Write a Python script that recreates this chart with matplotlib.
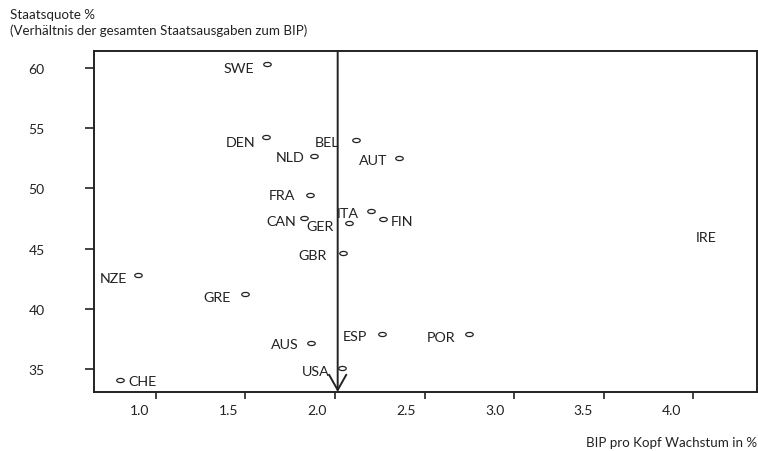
import matplotlib
matplotlib.use("Agg")
import matplotlib.pyplot as plt
from matplotlib.path import Path
from matplotlib.transforms import ScaledTranslation
import numpy as np

countries = ["SWE", "DEN", "BEL", "NLD", "AUT", "FRA", "ITA", "CAN", "GER", "FIN",
             "IRE", "GBR", "NZE", "GRE", "ESP", "POR", "AUS", "USA", "CHE"]
growth = [1.62, 1.615, 2.12, 1.885, 2.36, 1.86, 2.20, 1.825, 2.08, 2.27,
          4.21, 2.045, 0.90, 1.50, 2.26, 2.75, 1.865, 2.04, 0.80]
quota = [60.3, 54.3, 54.05, 52.7, 52.5, 49.45, 48.1, 47.55, 47.1, 47.45,
         46.05, 44.6, 42.8, 41.2, 37.95, 37.9, 37.2, 35.1, 34.1]
mean_growth = 2.015

x_ticks = [1.0, 1.5, 2.0, 2.5, 3.0, 3.5, 4.0]
x_tick_labels = ["1.0", "1.5", "2.0", "2.5", "3.0", "3.5", "4.0"]
y_ticks = [35, 40, 45, 50, 55, 60]
y_tick_labels = ["35", "40", "45", "50", "55", "60"]

# label placement (offset in pixels, horizontal alignment)
label_pos = {
    "SWE": (-13, -4, "right"), "DEN": (-11, -5, "right"), "BEL": (-17, -2, "right"),
    "NLD": (-10, -1, "right"), "AUT": (-12, -2, "right"), "FRA": (-15, 0, "right"),
    "ITA": (-12, -2, "right"), "CAN": (-8, -3, "right"), "GER": (-16, -3, "right"),
    "FIN": (7, -2, "left"), "IRE": (-14, -1, "right"), "GBR": (-16, -2, "right"),
    "NZE": (-11, -3, "right"), "GRE": (-15, -3, "right"), "ESP": (-14, -2, "right"),
    "POR": (-14, -3, "right"), "AUS": (-12, -1, "right"), "USA": (-13, -3, "right"),
    "CHE": (8, -1, "left"),
}

FONT = "Lato"
DARK = "#222222"
plt.rcParams["font.family"] = [FONT, "DejaVu Sans"]

fig = plt.figure(figsize=(7.58, 4.52), dpi=100)
ax = fig.add_axes([94 / 758, 59 / 452, 663 / 758, 341 / 452])

t = np.linspace(0, 2 * np.pi, 40)
ell = Path(np.column_stack([np.cos(t), 0.55 * np.sin(t)]))

show = [c != "IRE" for c in countries]
gx = [g for g, s in zip(growth, show) if s]
qy = [q for q, s in zip(quota, show) if s]
ax.plot(gx, qy, linestyle="none", marker=ell, markersize=5.4,
        markerfacecolor="none", markeredgecolor=DARK, markeredgewidth=0.9)

for c, g, q in zip(countries, growth, quota):
    dx, dy, ha = label_pos[c]
    ax.annotate(c, (g, q), xytext=(dx, dy), textcoords="offset pixels",
                ha=ha, va="center", fontsize=10.3, color=DARK)

ax.annotate("", xy=(mean_growth, 33.1), xytext=(mean_growth, 61.4),
            arrowprops=dict(arrowstyle="->,head_length=1.1,head_width=0.62",
                            color=DARK, lw=1.4, shrinkA=0, shrinkB=0))

ax.set_xlim(0.654, 4.357)
ax.set_ylim(33.1, 61.4)

ax.set_xticks(x_ticks)
ax.set_xticklabels(x_tick_labels)
ax.set_yticks(y_ticks)
ax.set_yticklabels(y_tick_labels)
ax.tick_params(axis="both", direction="out", width=1.2, color=DARK,
               labelsize=10, labelcolor=DARK)
ax.tick_params(axis="y", length=6.5, pad=29)
ax.tick_params(axis="x", length=5, pad=4)
for i, lab in enumerate(ax.get_xticklabels()):
    shift = ScaledTranslation((-16 - 0.85 * i) / 100, 0, fig.dpi_scale_trans)
    lab.set_transform(lab.get_transform() + shift)

for sp in ax.spines.values():
    sp.set_color(DARK)
    sp.set_linewidth(1.4)

fig.text(10 / 758, 1 - 15 / 452, "Staatsquote %", fontsize=9.6, color=DARK,
         ha="left", va="center")
fig.text(10 / 758, 1 - 31 / 452, "(Verhältnis der gesamten Staatsausgaben zum BIP)",
         fontsize=9.6, color=DARK, ha="left", va="center")
fig.text(757 / 758, 1 - 443 / 452, "BIP pro Kopf Wachstum in %", fontsize=9.6,
         color=DARK, ha="right", va="center")

fig.savefig("out.png", dpi=100)
